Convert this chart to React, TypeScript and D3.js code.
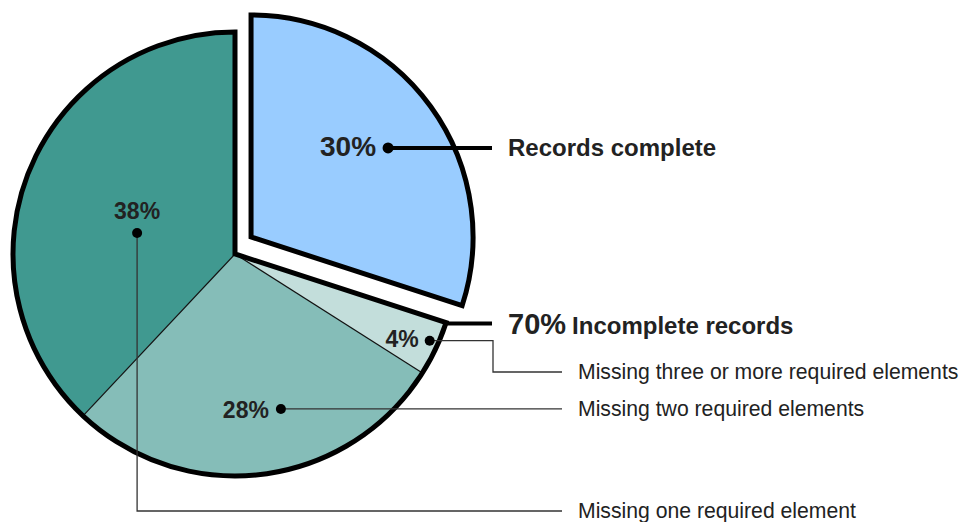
import React from "react";
import * as d3 from "d3";

const categories = [
  "Records complete",
  "Missing three or more required elements",
  "Missing two required elements",
  "Missing one required element",
];
const values = [30, 4, 28, 38];
const pctLabels = ["30%", "4%", "28%", "38%"];
const colors = ["#99CCFF", "#C3DEDB", "#85BDB8", "#409990"];
const groupLabelPct = "70%";
const groupLabelText = "Incomplete records";

const W = 962;
const H = 522;
const CX = 235;
const CY = 254;
const R = 222;
const EXPLODE_ANGLE = (43.3 * Math.PI) / 180;
const EXPLODE_DIST = 23.4;
const FONT = "'Liberation Sans', Arial, sans-serif";
const TEXT = "#222";

// label anchor positions in polar form (degrees clockwise from top, fraction of R)
const anchorPolar = [
  { deg: 57, f: 0.736 },
  { deg: 114, f: 0.96 },
  { deg: 163.5, f: 0.728 },
  { deg: 282.1, f: 0.451 },
];

const polar = (deg: number, r: number, ox: number, oy: number) => {
  const a = (deg * Math.PI) / 180;
  return [ox + r * Math.sin(a), oy - r * Math.cos(a)];
};

export default function App() {
  const pie = d3.pie<number>().sort(null).value((d) => d)(values);
  const arc = d3.arc<any>().innerRadius(0).outerRadius(R);
  const ex = EXPLODE_DIST * Math.sin(EXPLODE_ANGLE);
  const ey = -EXPLODE_DIST * Math.cos(EXPLODE_ANGLE);
  const ECX = CX + ex;
  const ECY = CY + ey;

  const restStart = pie[1].startAngle;
  const restOutline = arc({ startAngle: restStart, endAngle: 2 * Math.PI } as any) || "";
  const innerBoundaries = [pie[2].startAngle, pie[3].startAngle];

  const anchors = anchorPolar.map((p, i) =>
    i === 0 ? polar(p.deg, p.f * R, ECX, ECY) : polar(p.deg, p.f * R, CX, CY)
  );
  const corner = [CX + R * Math.sin(restStart), CY - R * Math.cos(restStart)];

  const lineEndX = 492;
  const textX = 508;
  const missEndX = 562;
  const missTextX = 578;
  const elbowX = 493;
  const row4 = 372;
  const row1 = 511;

  return (
    <svg width={W} height={H} style={{ display: "block", position: "absolute", left: 0, top: 0 }}>
      {/* remaining pie slices */}
      <g transform={`translate(${CX},${CY})`}>
        {pie.slice(1).map((s, i) => (
          <path key={i} d={arc(s) || ""} fill={colors[i + 1]} stroke="none" />
        ))}
        {innerBoundaries.map((a, i) => (
          <line key={i} x1={0} y1={0} x2={R * Math.sin(a)} y2={-R * Math.cos(a)} stroke="#111" strokeWidth={1.2} />
        ))}
        <path d={restOutline} fill="none" stroke="#000" strokeWidth={5} strokeLinejoin="miter" />
      </g>
      {/* exploded slice */}
      <g transform={`translate(${ECX},${ECY})`}>
        <path d={arc(pie[0]) || ""} fill={colors[0]} stroke="#000" strokeWidth={5} strokeLinejoin="miter" />
      </g>

      {/* leader lines */}
      <line x1={anchors[0][0]} y1={anchors[0][1]} x2={lineEndX} y2={anchors[0][1]} stroke="#000" strokeWidth={4} />
      <line x1={corner[0]} y1={corner[1] + 1} x2={lineEndX} y2={corner[1] + 1} stroke="#000" strokeWidth={4} />
      <polyline
        points={`${anchors[1][0]},${anchors[1][1]} ${elbowX},${anchors[1][1]} ${elbowX},${row4} ${missEndX},${row4}`}
        fill="none" stroke="#333" strokeWidth={1.3}
      />
      <line x1={anchors[2][0]} y1={anchors[2][1]} x2={missEndX} y2={anchors[2][1]} stroke="#333" strokeWidth={1.3} />
      <polyline
        points={`${anchors[3][0]},${anchors[3][1]} ${anchors[3][0]},${row1} ${missEndX},${row1}`}
        fill="none" stroke="#333" strokeWidth={1.3}
      />
      {anchors.map((a, i) => (
        <circle key={i} cx={a[0]} cy={a[1]} r={i === 0 ? 5.5 : 5} fill="#000" />
      ))}

      {/* percentage labels */}
      <g fontFamily={FONT} fontWeight="bold" fill={TEXT}>
        <text x={anchors[0][0] - 12} y={anchors[0][1] + 8} fontSize={28} textAnchor="end">{pctLabels[0]}</text>
        <text x={anchors[1][0] - 11} y={anchors[1][1] + 6} fontSize={23} textAnchor="end">{pctLabels[1]}</text>
        <text x={anchors[2][0] - 12} y={anchors[2][1] + 9} fontSize={23} textAnchor="end">{pctLabels[2]}</text>
        <text x={anchors[3][0]} y={anchors[3][1] - 14} fontSize={23} textAnchor="middle">{pctLabels[3]}</text>
      </g>

      {/* category labels */}
      <g fontFamily={FONT} fill={TEXT}>
        <text x={textX} y={anchors[0][1] + 8} fontSize={24} fontWeight="bold">{categories[0]}</text>
        <text x={textX} y={corner[1] + 11} fontWeight="bold">
          <tspan fontSize={29}>{groupLabelPct}</tspan>
          <tspan fontSize={24} dx={6}>{groupLabelText}</tspan>
        </text>
        <text x={missTextX} y={row4 + 7} fontSize={21.2}>{categories[1]}</text>
        <text x={missTextX} y={anchors[2][1] + 7} fontSize={21.2}>{categories[2]}</text>
        <text x={missTextX} y={row1 + 7} fontSize={21.2}>{categories[3]}</text>
      </g>
    </svg>
  );
}
